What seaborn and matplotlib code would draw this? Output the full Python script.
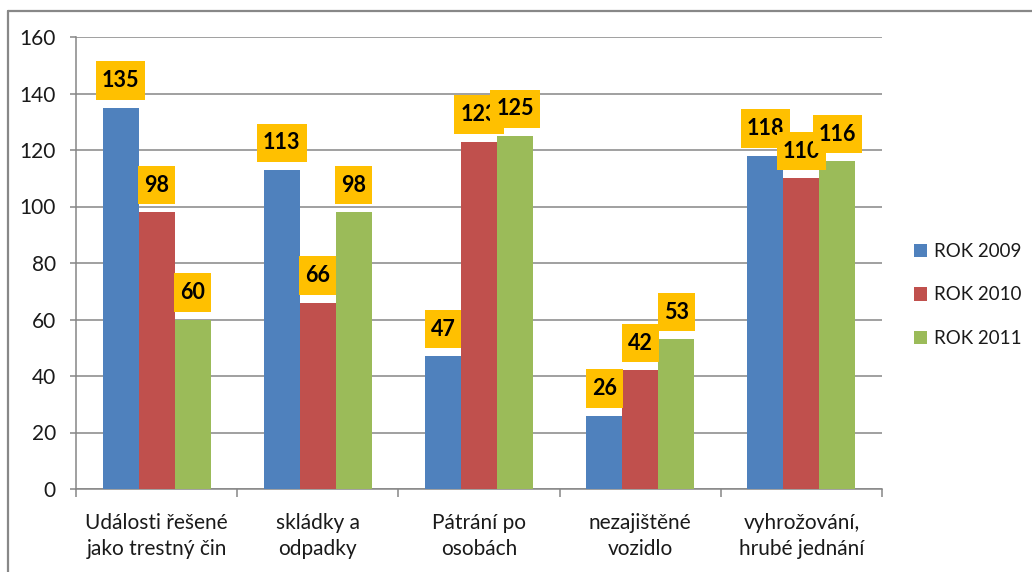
import matplotlib
matplotlib.use("Agg")
import matplotlib.pyplot as plt
import seaborn as sns
import pandas as pd
from matplotlib.lines import Line2D
from matplotlib.patches import Patch
from matplotlib.path import Path

categories = ["Události řešené\njako trestný čin", "skládky a\nodpadky", "Pátrání po\nosobách",
              "nezajištěné\nvozidlo", "vyhrožování,\nhrubé jednání"]
series_names = ["ROK 2009", "ROK 2010", "ROK 2011"]
rok_2009 = [135, 113, 47, 26, 118]
rok_2010 = [98, 66, 123, 42, 110]
rok_2011 = [60, 98, 125, 53, 116]
colors = ["#4F81BD", "#C0504D", "#9BBB59"]

rows = []
for name, vals in zip(series_names, [rok_2009, rok_2010, rok_2011]):
    for c, v in zip(categories, vals):
        rows.append({"cat": c, "series": name, "value": v})
df = pd.DataFrame(rows)

sns.set_style("white")
plt.rcParams['font.family'] = ['Lato', 'DejaVu Sans']

fig = plt.figure(figsize=(10.32, 5.72), dpi=100)
ax = fig.add_axes([76/1032, 1-489/572, (882-76)/1032, (489-37)/572])

sns.barplot(data=df, x="cat", y="value", hue="series", palette=colors,
            order=categories, hue_order=series_names, width=0.67, gap=0,
            saturation=1, ax=ax, legend=False, zorder=3, edgecolor="none")

ax.set_ylim(0, 160)
ax.set_xlim(-0.5, len(categories) - 0.5)
ax.set_yticks(range(0, 161, 20))
ax.yaxis.grid(True, color="#868686", linewidth=1.1, zorder=0)
ax.set_axisbelow(True)
ax.set_xlabel("")
ax.set_ylabel("")
for s in ["top", "right"]:
    ax.spines[s].set_visible(False)
for s in ["left", "bottom"]:
    ax.spines[s].set_color("#868686")
    ax.spines[s].set_linewidth(1.1)

ax.tick_params(axis="y", length=4.5, width=1.1, color="#868686", pad=10,
               labelsize=15, labelcolor="#1a1a1a", left=True)
ax.set_xticks(range(len(categories)))
ax.set_xticklabels(categories, fontsize=15, color="#1a1a1a", linespacing=1.4)
ax.tick_params(axis="x", which="major", length=0, pad=17)
ax.set_xticks([i - 0.5 for i in range(len(categories) + 1)], minor=True)
ax.tick_params(axis="x", which="minor", length=6, width=1.1, color="#868686", bottom=True)


def label_box(x0, y0, width, height, mutation_size):
    px = 0.28 * mutation_size
    py = 0.40 * mutation_size
    x0, y0 = x0 - px, y0 - py
    x1, y1 = x0 + width + 2 * px, y0 + height + 2 * py
    return Path([(x0, y0), (x1, y0), (x1, y1), (x0, y1), (x0, y0)], closed=True)


# data labels, drawn in order so later boxes overlap earlier ones
z = 10
for cont in ax.containers:
    for bar in cont:
        h = bar.get_height()
        x = bar.get_x() + bar.get_width() / 2
        ax.annotate(f"{int(round(h))}", (x, h), xytext=(0, 19.5), textcoords="offset points",
                    ha="center", va="center", fontsize=15.5, fontweight="bold", color="black",
                    bbox=dict(boxstyle=label_box, fc="#FFC000", ec="none"),
                    zorder=z, annotation_clip=False)
        z += 1

handles = [Patch(facecolor=c, edgecolor="none") for c in colors]
fig.legend(handles, series_names, loc="center left", bbox_to_anchor=(914/1032, 1-295/572),
           frameon=False, fontsize=13.5, handlelength=0.7, handleheight=0.7,
           handletextpad=0.35, labelspacing=1.4, borderpad=0, borderaxespad=0,
           labelcolor="#1a1a1a")

# outer frame (top and left visible)
fig.add_artist(Line2D([8/1032, 1], [1-10.5/572, 1-10.5/572], transform=fig.transFigure,
                      color="#888888", linewidth=1.6))
fig.add_artist(Line2D([8/1032, 8/1032], [0, 1-10.5/572], transform=fig.transFigure,
                      color="#888888", linewidth=1.6))

fig.savefig("out.png", dpi=100)
